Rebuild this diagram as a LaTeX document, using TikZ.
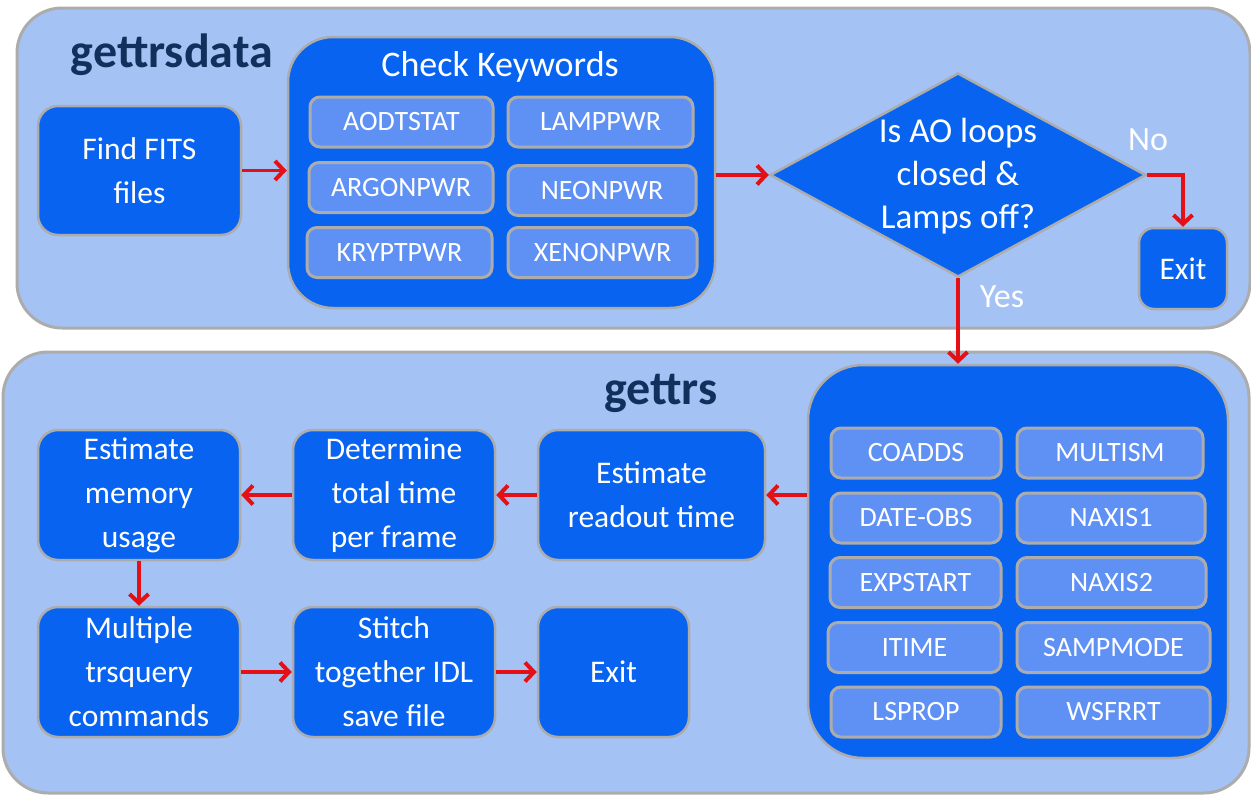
\documentclass[tikz,border=0pt]{standalone}
\usepackage{fontspec}
\setmainfont{Carlito}
\usetikzlibrary{shapes.geometric,arrows.meta,calc}
\definecolor{panelfill}{RGB}{164,194,244}
\definecolor{edgegray}{RGB}{172,172,172}
\definecolor{boxblue}{RGB}{8,100,240}
\definecolor{kwblue}{RGB}{95,145,245}
\definecolor{navy}{RGB}{18,48,92}
\definecolor{arrowred}{RGB}{228,16,22}
\tikzset{
  panel/.style={draw=edgegray, line width=3pt, fill=panelfill, rounded corners=45pt, inner sep=0pt},
  box/.style={draw=edgegray, line width=2.5pt, fill=boxblue, rounded corners=20pt, text=white,
    font=\fontsize{31.5}{44}\selectfont, align=center, inner sep=0pt},
  kwbox/.style={draw=edgegray, line width=3pt, fill=kwblue, rounded corners=10pt, text=white,
    font=\fontsize{28}{32}\selectfont, inner sep=0pt, minimum height=50pt},
  titletext/.style={text=navy, font=\fontsize{48}{52}\selectfont\bfseries, inner sep=0pt},
  flow/.style={draw=arrowred, line width=3.5pt, -{Straight Barb[length=9pt,width=19pt,line width=4pt]}},
  lbl/.style={text=white, font=\fontsize{34}{40}\selectfont, inner sep=0pt},
}
\begin{document}
\begin{tikzpicture}[x=1pt,y=-1pt]
\useasboundingbox (0,0) rectangle (1251,795);
% panels
\node[panel, minimum width=1233pt, minimum height=320pt] (top) at (633.5,168) {};
\node[panel, minimum width=1246pt, minimum height=441pt] (bottom) at (626,572.5) {};
% titles
\node[titletext] (t1) at (172,55) {gettrsdata};
\node[titletext] (t2) at (661,393) {gettrs};
% top row
\node[box, minimum width=203pt, minimum height=129pt] (find) at (139.5,170.5) {Find FITS\\files};
\node[box, rounded corners=45pt, minimum width=427pt, minimum height=271pt] (check) at (501.5,172.5) {};
\node[text=white, font=\fontsize{36}{40}\selectfont, inner sep=0pt] (checkt) at (500,67) {Check Keywords};
\node[kwbox, minimum width=183pt] (k1) at (401.5,122) {AODTSTAT};
\node[kwbox, minimum width=185pt] (k2) at (600.5,122) {LAMPPWR};
\node[kwbox, minimum width=184pt] (k3) at (401,187.5) {ARGONPWR};
\node[kwbox, minimum width=188pt] (k4) at (602,190.5) {NEONPWR};
\node[kwbox, minimum width=185pt] (k5) at (399.5,252.5) {KRYPTPWR};
\node[kwbox, minimum width=189pt] (k6) at (602.5,252.5) {XENONPWR};
\node[diamond, draw=edgegray, line width=2.5pt, fill=boxblue, inner sep=0pt,
      minimum width=376pt, minimum height=204pt, aspect=1.84] (dec) at (958,175) {};
\node[text=white, font=\fontsize{35}{43}\selectfont, align=center, inner sep=0pt] (dect) at (958,176)
  {Is AO loops\\closed \&\\Lamps off?};
\node[box, rounded corners=15pt, minimum width=88pt, minimum height=81pt] (exit1) at (1183,268.5) {Exit};
\node[lbl] (no) at (1148,140) {No};
\node[lbl] (yes) at (1002,297) {Yes};
% bottom
\node[box, rounded corners=55pt, minimum width=420pt, minimum height=393pt] (kwc) at (1018,561.5) {};
\node[kwbox, minimum width=170pt] (c1) at (916,453) {COADDS};
\node[kwbox, minimum width=186pt] (c2) at (1110,453) {MULTISM};
\node[kwbox, minimum width=170pt] (c3) at (916,518) {DATE-OBS};
\node[kwbox, minimum width=188pt] (c4) at (1111,518) {NAXIS1};
\node[kwbox, minimum width=171pt] (c5) at (915.5,582.5) {EXPSTART};
\node[kwbox, minimum width=189pt] (c6) at (1111.5,582.5) {NAXIS2};
\node[kwbox, minimum width=173pt] (c7) at (914.5,647.5) {ITIME};
\node[kwbox, minimum width=193pt] (c8) at (1113.5,647.5) {SAMPMODE};
\node[kwbox, minimum width=170pt] (c9) at (916,712) {LSPROP};
\node[kwbox, minimum width=193pt] (c10) at (1113.5,712) {WSFRRT};
\node[box, minimum width=227pt, minimum height=130pt] (readout) at (651.5,495) {Estimate\\readout time};
\node[box, minimum width=202pt, minimum height=130pt] (determine) at (394,495) {Determine\\total time\\per frame};
\node[box, minimum width=202pt, minimum height=130pt] (memory) at (139,495) {Estimate\\memory\\usage};
\node[box, minimum width=202pt, minimum height=130pt] (multiple) at (139,672) {Multiple\\trsquery\\commands};
\node[box, minimum width=202pt, minimum height=130pt] (stitch) at (394,672) {Stitch\\together IDL\\save file};
\node[box, minimum width=151pt, minimum height=130pt] (exit2) at (613.5,672) {Exit};
% connectors
\draw[flow] (find.east) -- (find.east -| check.west);
\draw[flow] (dec.west -| check.east) -- (dec.west);
\draw[flow] (dec.east) -| (exit1.north);
\draw[flow] (dec.south) -- (dec.south |- kwc.north);
\draw[flow] (readout.east -| kwc.west) -- (readout.east);
\draw[flow] (readout.west) -- (determine.east);
\draw[flow] (determine.west) -- (memory.east);
\draw[flow] (memory.south) -- (multiple.north);
\draw[flow] (multiple.east) -- (stitch.west);
\draw[flow] (stitch.east) -- (exit2.west);
\end{tikzpicture}
\end{document}
